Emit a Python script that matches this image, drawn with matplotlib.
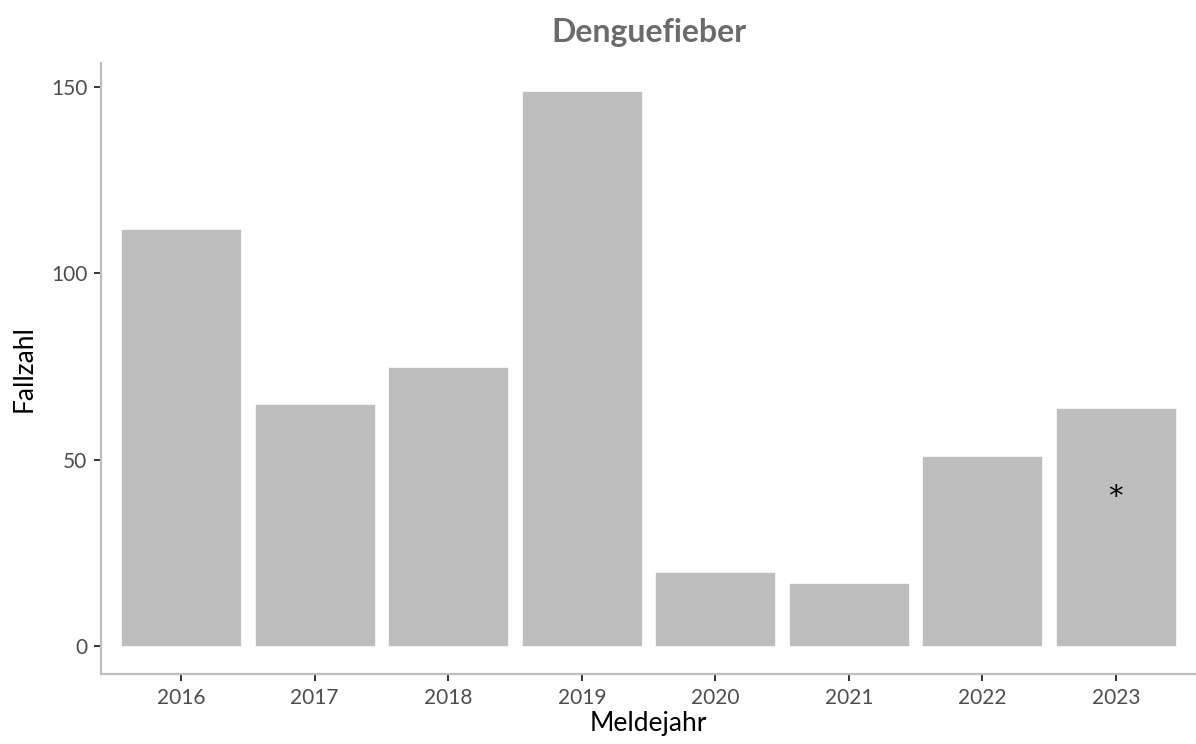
import numpy as np
import matplotlib.pyplot as plt

jahre = ["2016", "2017", "2018", "2019", "2020", "2021", "2022", "2023"]
fallzahl = [112, 65, 75, 149, 20, 17, 51, 64]
stern_jahr = "2023"
stern_y = 40

plt.rcParams['font.family'] = ['Lato', 'DejaVu Sans']

fig = plt.figure(figsize=(11.96, 7.44), dpi=100)
ax = fig.add_axes([0.0845, 0.0941, 0.9155, 0.8212])

x = np.arange(len(jahre))
ax.bar(x, fallzahl, width=0.9, color='#bebebe', edgecolor='white', linewidth=0.5)
ax.text(jahre.index(stern_jahr), stern_y, "*", ha='center', va='center',
        fontsize=21, color='black', family='DejaVu Sans')

ax.set_xlim(-0.6, len(jahre) - 0.4)
ax.set_ylim(-7.45, 156.45)
ax.set_xticks(x)
ax.set_xticklabels(jahre)
ax.set_yticks([0, 50, 100, 150])

for s in ['top', 'right']:
    ax.spines[s].set_visible(False)
for s in ['left', 'bottom']:
    ax.spines[s].set_color('#bebebe')
    ax.spines[s].set_linewidth(1.6)

ax.tick_params(axis='both', length=5, width=1.4, color='#333333',
               labelcolor='#4d4d4d', labelsize=15, pad=5)

ax.set_xlabel("Meldejahr", fontsize=19, color='black', labelpad=2)
ax.set_ylabel("Fallzahl", fontsize=19, color='black', labelpad=10)
ax.set_title("Denguefieber", fontsize=23, fontweight='bold', color='#6b6b6b', pad=15)

fig.savefig("out.png", dpi=100)
